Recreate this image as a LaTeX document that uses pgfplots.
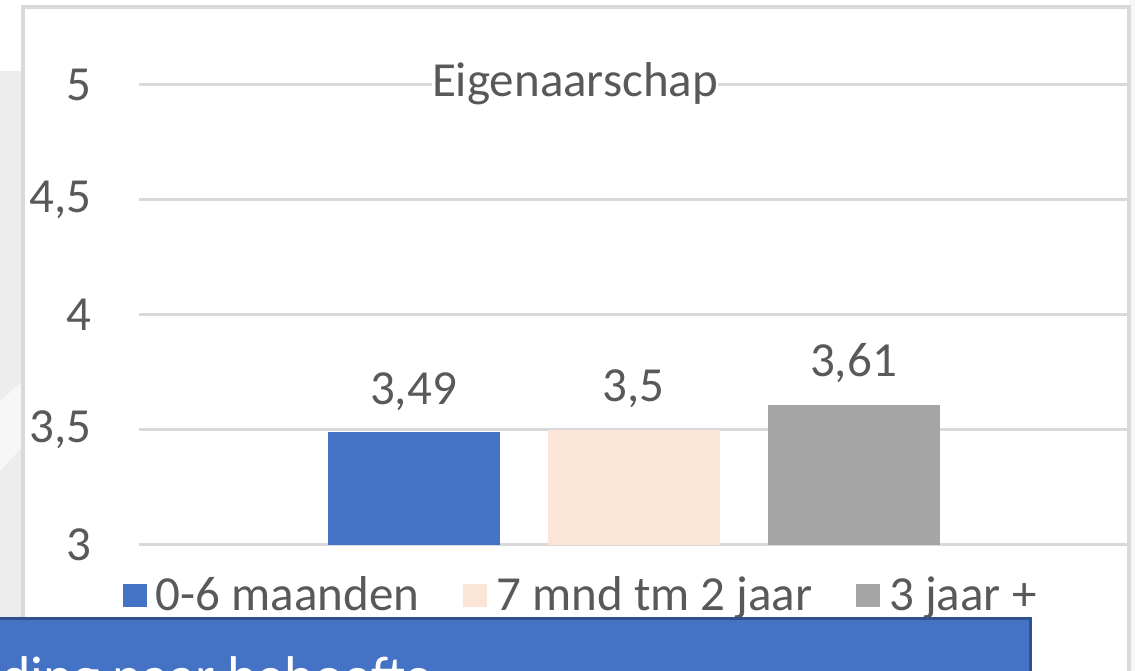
\documentclass[border=0pt]{standalone}
\usepackage{fontspec}
\setmainfont{Carlito}
\usepackage{pgfplots}
\pgfplotsset{compat=1.18}

\definecolor{serblue}{HTML}{4472C4}
\definecolor{serpeach}{HTML}{FBE5D6}
\definecolor{sergray}{HTML}{A5A5A5}
\definecolor{txtgray}{HTML}{595959}
\definecolor{gridgray}{HTML}{D9D9D9}
\definecolor{boxedge}{HTML}{2F528F}

\newcommand{\chartfont}{\fontsize{49bp}{58bp}\selectfont}

\begin{document}
\begin{tikzpicture}[x=1bp,y=1bp]
\useasboundingbox (0,0) rectangle (1135,671);
\clip (0,0) rectangle (1135,671);

% backdrop around the chart
\fill[white] (0,0) rectangle (1135,671);
\fill[black!7] (0,0) rectangle (23,600);
\fill[black!3] (0,200) -- (23,225) -- (23,290) -- (0,270) -- cycle;
\fill[black!3] (1129,0) rectangle (1135,671);

% chart area
\fill[white] (23,-20) rectangle (1129,664);
\draw[gridgray, line width=3.5bp] (23,-20) -- (23,664) -- (1129,664) -- (1129,-20);

\begin{axis}[
  at={(139bp,126bp)}, anchor=south west,
  scale only axis, width=989bp, height=460bp,
  xmin=-1, xmax=1, ymin=3, ymax=5,
  xtick=\empty, ytick={3,3.5,...,5},
  axis line style={draw=none}, major tick style={draw=none},
  ymajorgrids, grid style={gridgray, line width=3bp},
  /pgf/number format/use comma,
  /pgf/number format/assume math mode=true,
  yticklabel style={font=\chartfont, text=txtgray, inner sep=0pt, anchor=east, xshift=-47bp},
  ybar=48bp, bar width=172bp,
  nodes near coords,
  nodes near coords style={font=\chartfont, text=txtgray, anchor=base, yshift=28bp,
    /pgf/number format/use comma, /pgf/number format/assume math mode=true},
  title={Eigenaarschap},
  title style={at={(axis description cs:0.4409,1)}, anchor=base, yshift=-17bp,
    font=\chartfont, text=txtgray, fill=white, inner sep=0pt},
  legend image code/.code={\fill[#1] (0bp,-13bp) rectangle (24bp,10bp);},
  legend style={at={(axis description cs:-0.0162,-0.1065)}, anchor=west,
    draw=none, fill=none, inner sep=0pt, outer sep=0pt,
    nodes={inner sep=0pt}, font=\chartfont, text=txtgray,
    legend columns=-1,
    /tikz/every odd column/.append style={column sep=9bp},
    /tikz/every even column/.append style={column sep=44bp}},
  legend cell align=left,
]
\addplot[fill=serblue, draw=none] coordinates {(0,3.49)};
\addplot[fill=serpeach, draw=none] coordinates {(0,3.5)};
\addplot[fill=sergray, draw=none] coordinates {(0,3.61)};
\legend{0-6 maanden, 7 mnd tm 2 jaar, 3 jaar +}
\end{axis}

% overlapping slide box at the bottom
\filldraw[fill=serblue, draw=boxedge, line width=3bp] (-10,-40) rectangle (1030,52);
\node[anchor=base east, text=white, inner sep=0pt,
  font=\fontsize{56bp}{60bp}\selectfont] at (433,-25) {ding naar behoefte};
\end{tikzpicture}
\end{document}
